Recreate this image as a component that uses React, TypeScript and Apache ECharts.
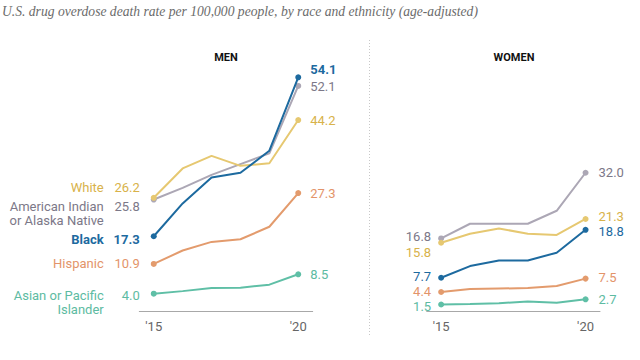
import React, { useEffect, useRef } from "react";
import * as echarts from "echarts";

const years = ["2015", "2016", "2017", "2018", "2019", "2020"];
const tickLabels = ["'15", "", "", "", "", "'20"];

const groups = ["White", "American Indian or Alaska Native", "Black", "Hispanic", "Asian or Pacific Islander"];
const groupLabels = ["White", "American Indian\nor Alaska Native", "Black", "Hispanic", "Asian or Pacific\nIslander"];

const menWhite = [26.2, 33.0, 35.9, 33.6, 34.2, 44.2];
const menAIAN = [25.8, 28.5, 31.5, 34.0, 36.5, 52.1];
const menBlack = [17.3, 24.9, 30.9, 32.0, 37.1, 54.1];
const menHispanic = [10.9, 14.0, 16.0, 16.6, 19.5, 27.3];
const menAsian = [4.0, 4.6, 5.3, 5.4, 6.1, 8.5];

const womenWhite = [15.8, 17.9, 19.1, 17.9, 17.6, 21.3];
const womenAIAN = [16.8, 20.2, 20.2, 20.2, 23.2, 32.0];
const womenBlack = [7.7, 10.4, 11.7, 11.7, 13.5, 18.8];
const womenHispanic = [4.4, 5.1, 5.2, 5.3, 5.8, 7.5];
const womenAsian = [1.5, 1.6, 1.8, 2.2, 1.9, 2.7];

const lineColors = ["#E6C871", "#ACA7B5", "#1D6A9F", "#E39B6D", "#5FBFA6"];
const textColors = ["#D8B24A", "#7C7888", "#1D6A9F", "#E3946A", "#5DBBA2"];
const bold = [false, false, true, false, false];

// label vertical nudges (pixels)
const menStartOffsets = [-10, 14, 3, 0, 9];
const womenStartOffsets = [10, -1.5, -1.5, -0.5, 1.5];
const womenEndOffsets = [-2, 0, 2, -1, 0];
const menEndOffsets = [0, 1, -8, 0, 0];

const FONT = "Roboto, 'Liberation Sans', sans-serif";

export default function App() {
  const ref = useRef<HTMLDivElement>(null);
  useEffect(() => {
    document.body.style.margin = "0";
    const chart = echarts.init(ref.current!, undefined, { renderer: "svg" });
    const men = [menWhite, menAIAN, menBlack, menHispanic, menAsian];
    const women = [womenWhite, womenAIAN, womenBlack, womenHispanic, womenAsian];

    const mkSeries = (vals: number[], gi: number, panel: number) => {
      const color = lineColors[gi];
      const tcolor = textColors[gi];
      const fw = bold[gi] ? "bold" : "normal";
      const data = vals.map((v, i) => {
        let label: any = undefined;
        if (i === 0) {
          if (panel === 0) {
            const lines = groupLabels[gi].split("\n");
            const txt = lines
              .map((l, li) => `{n|${l}}{v|${li === 0 ? v.toFixed(1) : " "}}`)
              .join("\n");
            label = {
              show: true,
              position: "left",
              distance: 11,
              offset: [0, menStartOffsets[gi]],
              formatter: txt,
              rich: {
                n: { fontFamily: FONT, fontSize: 13, color: tcolor, fontWeight: fw, width: 112, align: "right", lineHeight: 14.5 },
                v: { fontFamily: FONT, fontSize: 13, color: tcolor, fontWeight: fw, width: 36, align: "right", lineHeight: 14.5 },
              },
            };
          } else {
            label = {
              show: true,
              position: "left",
              distance: 7,
              offset: [0, womenStartOffsets[gi]],
              formatter: v.toFixed(1),
              fontFamily: FONT,
              fontSize: 13,
              lineHeight: 11,
              color: tcolor,
            };
          }
        } else if (i === vals.length - 1) {
          label = {
            show: true,
            position: "right",
            distance: panel === 0 ? 9 : 10,
            offset: [0, panel === 0 ? menEndOffsets[gi] : womenEndOffsets[gi]],
            formatter: v.toFixed(1),
            fontFamily: FONT,
            fontSize: 13,
            lineHeight: 11,
            color: tcolor,
            fontWeight: panel === 0 ? fw : "normal",
          };
        }
        return { value: v, label };
      });
      return {
        type: "line",
        name: groups[gi],
        xAxisIndex: panel,
        yAxisIndex: panel,
        data,
        symbol: "circle",
        showSymbol: true,
        symbolSize: (_v: any, p: any) => (p.dataIndex === 0 || p.dataIndex === vals.length - 1 ? 6 : 0),
        lineStyle: { color, width: 2 },
        itemStyle: { color },
        label: { show: false },
        z: gi === 2 ? 5 : 2,
        emphasis: { disabled: true },
      };
    };

    const series: any[] = [];
    [1, 0, 3, 4, 2].forEach((gi) => series.push(mkSeries(men[gi], gi, 0)));
    [1, 0, 3, 4, 2].forEach((gi) => series.push(mkSeries(women[gi], gi, 1)));

    const xAxisBase = (gridIndex: number) => ({
      type: "category",
      gridIndex,
      data: years,
      boundaryGap: true,
      axisLine: { lineStyle: { color: "#A8A8A8", width: 1 } },
      axisTick: { alignWithLabel: true, length: 5, lineStyle: { color: "#A8A8A8" } },
      axisLabel: {
        interval: 0,
        formatter: (_v: string, i: number) => tickLabels[i],
        color: "#666",
        fontFamily: FONT,
        fontSize: 13,
        margin: 9,
      },
    });
    const yAxisBase = (gridIndex: number) => ({
      type: "value",
      gridIndex,
      min: 0,
      max: 60,
      show: false,
    });

    chart.setOption({
      animation: false,
      grid: [
        { left: 139.3, right: 327.3, top: 51.8, bottom: 49, containLabel: false },
        { left: 426.7, right: 40, top: 51.8, bottom: 49, containLabel: false },
      ],
      xAxis: [xAxisBase(0), xAxisBase(1)],
      yAxis: [yAxisBase(0), yAxisBase(1)],
      series,
      graphic: [
        {
          type: "text",
          left: 2,
          top: 4,
          style: {
            text: "U.S. drug overdose death rate per 100,000 people, by race and ethnicity (age-adjusted)",
            fontFamily: "'Liberation Serif', 'DejaVu Serif', serif",
            fontStyle: "italic",
            fontSize: 13.6,
            fill: "#6B6B6B",
          },
        },
        {
          type: "text",
          x: 226,
          y: 57.5,
          style: { text: "MEN", fontFamily: FONT, fontWeight: "bold", fontSize: 11, fill: "#111", align: "center", verticalAlign: "middle" },
        },
        {
          type: "text",
          x: 514,
          y: 57,
          style: { text: "WOMEN", fontFamily: FONT, fontWeight: "bold", fontSize: 11, fill: "#111", align: "center", verticalAlign: "middle" },
        },
        {
          type: "line",
          shape: { x1: 369.5, y1: 40, x2: 369.5, y2: 335 },
          style: { stroke: "#C8C8C8", lineWidth: 1, lineDash: [1, 2] },
        },
      ],
    });
    return () => chart.dispose();
  }, []);
  return <div ref={ref} style={{ width: 640, height: 360 }} />;
}
